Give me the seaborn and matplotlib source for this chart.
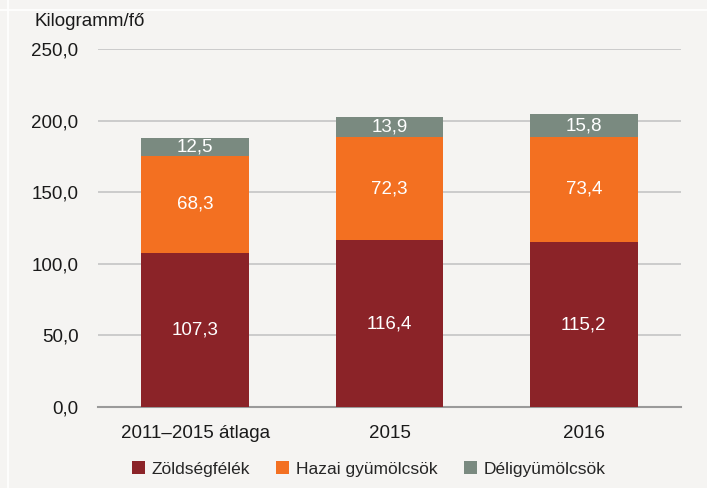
import matplotlib
matplotlib.use("Agg")
import matplotlib.pyplot as plt
import seaborn as sns
import numpy as np
from matplotlib.patches import Patch
from matplotlib.lines import Line2D
from matplotlib.ticker import FixedLocator

categories = ["2011–2015 átlaga", "2015", "2016"]
zoldseg = [107.3, 116.4, 115.2]
hazai = [68.3, 72.3, 73.4]
deli = [12.5, 13.9, 15.8]
series_names = ["Zöldségfélék", "Hazai gyümölcsök", "Déligyümölcsök"]
colors = ["#8b2328", "#f37021", "#7a8a80"]
yticks = [0, 50, 100, 150, 200, 250]

sns.set_theme(style="white")
plt.rcParams['font.family'] = ['Liberation Sans', 'DejaVu Sans']

bg = "#f5f4f2"
W, H = 707, 488
fig = plt.figure(figsize=(W / 100, H / 100), dpi=100, facecolor=bg)
# faint white frame lines
fig.add_artist(Line2D([8 / W, 8 / W], [0, 1], color="white", linewidth=1.2))
fig.add_artist(Line2D([0, 1], [1 - 10 / H, 1 - 10 / H], color="white", linewidth=1.2))

ax = fig.add_axes([98 / W, 1 - 407 / H, 583 / W, 358 / H])
ax.set_facecolor(bg)

series = [zoldseg, hazai, deli]
bottom = np.zeros(len(categories))
for vals, col in zip(series, colors):
    sns.barplot(x=categories, y=vals, bottom=bottom, color=col, width=0.555,
                saturation=1, linewidth=0, ax=ax, zorder=3)
    for i, v in enumerate(vals):
        ax.text(i, bottom[i] + v / 2, f"{v:.1f}".replace(".", ","),
                ha="center", va="center", color="white", fontsize=13.5, zorder=4)
    bottom = bottom + np.array(vals)

ax.set_ylim(0, 250)
ax.set_xlim(-0.5, 2.5)
ax.set_yticks(yticks)
ax.set_yticklabels([f"{t:.1f}".replace(".", ",") for t in yticks], fontsize=13.5, color="#1a1a1a")
ax.yaxis.grid(True, color="#c8c8c8", linewidth=1.3, zorder=0)
ax.set_axisbelow(True)
ax.tick_params(axis="y", length=0, pad=14)
ax.tick_params(axis="x", which="major", length=0, pad=13, labelsize=13.5, labelcolor="#1a1a1a")
ax.xaxis.set_minor_locator(FixedLocator([-0.5, 0.5, 1.5, 2.5]))
ax.tick_params(axis="x", which="minor", length=6, width=1.3, color="#9a9a9a", direction="out")
for s in ["left", "right", "top"]:
    ax.spines[s].set_visible(False)
ax.spines["bottom"].set_color("#9a9a9a")
ax.spines["bottom"].set_linewidth(1.5)
ax.set_xlabel("")
ax.set_ylabel("")

fig.text(35 / W, 1 - 22 / H, "Kilogramm/fő", fontsize=13.5, color="#1a1a1a", va="center", ha="left")

handles = [Patch(facecolor=c, edgecolor="none") for c in colors]
fig.legend(handles, series_names, loc="center", bbox_to_anchor=(369 / W, 1 - 469 / H),
           ncol=3, frameon=False, fontsize=12.5, handlelength=0.75, handleheight=0.8,
           handletextpad=0.4, columnspacing=1.5)

fig.savefig("out.png", dpi=100, facecolor=bg)
